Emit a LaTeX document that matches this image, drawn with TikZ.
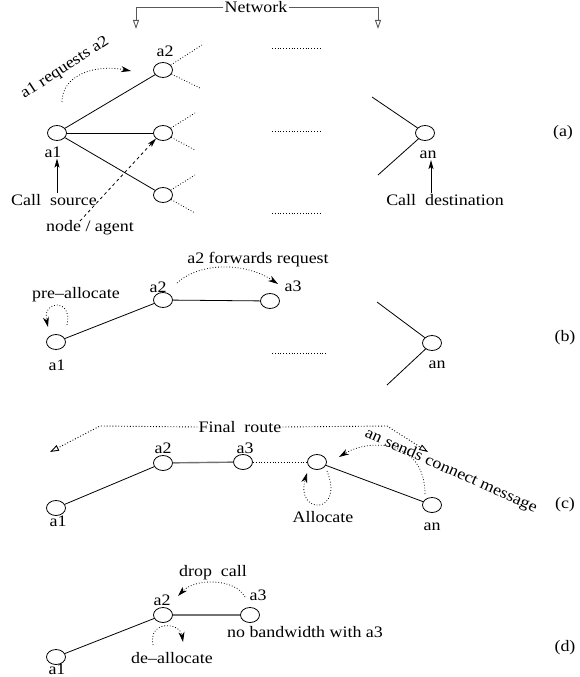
\documentclass[tikz,border=0pt]{standalone}
\usepackage{fontspec}
\setmainfont{Liberation Serif}[FakeStretch=1.12]
\usetikzlibrary{arrows.meta,shapes.geometric}
\tikzset{
    agent/.style={shape=ellipse,draw=black,line width=0.8pt,minimum width=19pt,minimum height=15pt,inner sep=0pt},
    lbl/.style={font=\fontsize{16}{19}\selectfont,inner sep=1pt},
    msg/.style={dotted,line width=0.8pt,-{Stealth[length=10pt,width=6pt,inset=3pt]}},
    up/.style={line width=0.8pt,-{Stealth[length=9pt,width=5pt,inset=2pt]}},
    bracket/.style={draw=black!65,line width=0.9pt,-{Triangle[open,length=9pt,width=6pt]}},
    link/.style={line width=0.8pt},
    held/.style={draw=black!55,line width=1.4pt},
}
\begin{document}
\begin{tikzpicture}[x=1pt,y=-1pt]
        \useasboundingbox (0,0) rectangle (580,677);

        \node[lbl] (net) at (256,7) {Network};
        \draw[bracket] (net.west) -| (136,29);
        \draw[bracket] (net.east) -| (378,29);

        \node[agent] (a1) at (57,133) {};
        \node[agent] (a2) at (163,70) {};
        \node[agent] (am) at (163,133) {};
        \node[agent] (ab) at (163,195) {};
        \node[agent] (an) at (425,133) {};
        \node[lbl] (a1l) at (53,152) {a1};
        \node[lbl] (a2l) at (165,51) {a2};
        \node[lbl] (anl) at (428,155) {an};
        \node[lbl] (src) at (54,200) {Call~~source};
        \node[lbl] (dst) at (445,200) {Call~~destination};
        \node[lbl] (agt) at (90,228) {node / agent};
        \node[lbl,rotate=33] (req) at (65,68) {a1 requests a2};
        \node[lbl] (pa) at (563,133) {(a)};

        \draw[link] (a1) -- (a2);
        \draw[link] (a1) -- (am);
        \draw[link] (a1) -- (ab);
        \draw[link] (an) -- ++(-53,-36);
        \draw[link] (an) -- ++(-47,42);
        \draw[dotted,link] (a2) -- ++(39,-25);
        \draw[dotted,link] (a2) -- ++(37,18);
        \draw[dotted,link] (am) -- ++(32,-20);
        \draw[dotted,link] (am) -- ++(32,17);
        \draw[dotted,link] (ab) -- ++(32,-20);
        \draw[dotted,link] (ab) -- ++(32,18);
        \draw[dotted,link] (272,48) -- (322,48);
        \draw[dotted,link] (272,131) -- (322,131);
        \draw[dotted,link] (272,213) -- (322,213);
        \draw[up] (src.north -| a1) -- (a1l.south -| a1);
        \draw[up] (dst.north -| 431,0) -- (anl.south -| 431,0);
        \coordinate (agt0) at (80,221);
        \draw[dashed,up] (agt0) -- (am.south west);
        \coordinate (req0) at (62,102);
        \coordinate (req1) at (131,71);
        \draw[msg] (req0) .. controls (62,75) and (95,64) .. (req1);

        \node[agent] (b1) at (56,342) {};
        \node[agent] (b2) at (163,300) {};
        \node[agent] (b3) at (270,301) {};
        \node[agent] (bn) at (432,343) {};
        \node[lbl] (b1l) at (57,365) {a1};
        \node[lbl] (b2l) at (158,287) {a2};
        \node[lbl] (b3l) at (293,286) {a3};
        \node[lbl] (bnl) at (437,365) {an};
        \node[lbl] (pre) at (76,295) {pre\textendash allocate};
        \node[lbl] (fwd) at (258,260) {a2 forwards request};
        \node[lbl] (pb) at (565,338) {(b)};

        \draw[link] (b1) -- (b2);
        \draw[link] (b2) -- (b3);
        \draw[link] (bn) -- ++(-55,-41);
        \draw[link] (bn) -- ++(-45,42);
        \draw[dotted,link] (272,353) -- (327,353);
        \coordinate (pre0) at (67,325);
        \coordinate (pre1) at (48,327);
        \draw[msg] (pre0) .. controls (73,298) and (42,300) .. (pre1);
        \coordinate (fwd0) at (177,283);
        \coordinate (fwd1) at (278,284);
        \draw[msg] (fwd0) .. controls (200,262) and (245,262) .. (fwd1);

        \node[agent] (c1) at (56,508) {};
        \node[agent] (c2) at (163,463) {};
        \node[agent] (c3) at (243,462) {};
        \node[agent] (c4) at (317,462) {};
        \node[agent] (cn) at (432,505) {};
        \node[lbl] (c1l) at (58,521) {a1};
        \node[lbl] (c2l) at (163,448) {a2};
        \node[lbl] (c3l) at (245,448) {a3};
        \node[lbl] (cnl) at (432,527) {an};
        \node[lbl] (alc) at (323,517) {Allocate};
        \node[lbl] (fin) at (240,427) {Final~~route};
        \node[lbl,rotate=-24] (snd) at (451,471) {an sends connect message};
        \node[lbl] (pc) at (565,505) {(c)};

        \draw[link] (c1) -- (c2);
        \draw[held] (c2) -- (c3);
        \draw[dotted,link] (c3) -- (c4);
        \draw[link] (c4) -- (cn);
        \draw[bracket,dotted,draw=black] (fin.west) -- (100,426) -- (50,452);
        \draw[bracket,dotted,draw=black] (fin.east) -- (387,426) -- (428,452);
        \coordinate (alc0) at (327,471);
        \coordinate (alc1) at (307,473);
        \draw[msg] (alc0) .. controls (345,515) and (295,515) .. (alc1);
        \coordinate (snd0) at (425,494);
        \coordinate (snd1) at (339,457);
        \draw[msg] (snd0) .. controls (425,440) and (370,438) .. (snd1);

        \node[agent] (d1) at (56,657) {};
        \node[agent] (d2) at (163,615) {};
        \node[agent] (d3) at (250,615) {};
        \node[lbl] (d1l) at (57,669) {a1};
        \node[lbl] (d2l) at (162,600) {a2};
        \node[lbl] (d3l) at (258,595) {a3};
        \node[lbl] (drp) at (213,573) {drop~~call};
        \node[lbl] (nbw) at (305,632) {no bandwidth with a3};
        \node[lbl] (dea) at (172,658) {de\textendash allocate};
        \node[lbl] (pd) at (565,648) {(d)};

        \draw[link] (d1) -- (d2);
        \draw[held] (d2) -- (d3);
        \coordinate (drp0) at (245,597);
        \coordinate (drp1) at (178,596);
        \draw[msg] (drp0) .. controls (235,578) and (195,578) .. (drp1);
        \coordinate (dea0) at (153,645);
        \coordinate (dea1) at (183,642);
        \draw[msg] (dea0) .. controls (148,620) and (180,622) .. (dea1);
\end{tikzpicture}
\end{document}
